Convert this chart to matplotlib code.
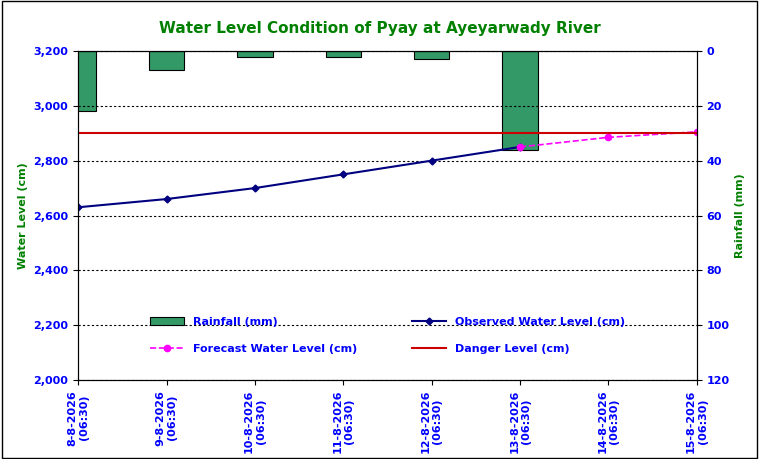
import matplotlib.pyplot as plt
import numpy as np

dates = ['8-8-2026\n(06:30)', '9-8-2026\n(06:30)', '10-8-2026\n(06:30)', '11-8-2026\n(06:30)',
         '12-8-2026\n(06:30)', '13-8-2026\n(06:30)', '14-8-2026\n(06:30)', '15-8-2026\n(06:30)']
rainfall = [22, 7, 2.2, 2.2, 3, 36]
observed = [2630, 2660, 2700, 2750, 2800, 2850]
forecast = [2850, 2885, 2905]
danger = 2900

x = np.arange(len(dates))

fig = plt.figure(figsize=(7.59, 4.59), dpi=100)
ax = fig.add_axes([0.103, 0.172, 0.815, 0.717])
ax.set_xlim(0, len(dates) - 1)
ax.set_ylim(2000, 3200)
ax.set_yticks(range(2000, 3201, 200))
ax.set_yticklabels([f'{v:,}' for v in range(2000, 3201, 200)])
ax.grid(axis='y', color='black', linestyle=(0, (2, 2)), linewidth=0.8)
ax.set_xticks(x)
ax.set_xticklabels(dates, rotation=90, color='blue', fontweight='bold', fontsize=8)
for t in ax.get_yticklabels():
    t.set_color('blue'); t.set_fontweight('bold'); t.set_fontsize(8)
ax.set_ylabel('Water Level (cm)', color='green', fontweight='bold', fontsize=8)

ax2 = ax.twinx()
ax2.set_ylim(120, 0)
ax2.set_yticks(range(0, 121, 20))
for t in ax2.get_yticklabels():
    t.set_color('blue'); t.set_fontweight('bold'); t.set_fontsize(8)
ax2.set_ylabel('Rainfall (mm)', color='green', fontweight='bold', fontsize=8)
b = ax2.bar(x[:len(rainfall)], rainfall, width=0.4, color='#339966', edgecolor='black',
            linewidth=0.8, label='Rainfall (mm)')
ax2.set_xlim(0, len(dates) - 1)

# lines drawn above the bars
ax.set_zorder(ax2.get_zorder() + 1)
ax.patch.set_visible(False)
ax2.patch.set_facecolor('#CCFFFF')

l1, = ax.plot(x[:len(observed)], observed, color='#000080', marker='D', markersize=3.5,
              linewidth=1.5, label='Observed Water Level (cm)')
l2, = ax.plot(x[len(observed) - 1:], forecast, color='#FF00FF', marker='o', markersize=4.5,
              linestyle='--', linewidth=1.2, label='Forecast Water Level (cm)')
l3 = ax.axhline(danger, color='#CC0000', linewidth=1.5, label='Danger Level (cm)')

handles = [b, l2, l1, l3]
leg = ax.legend(handles, [h.get_label() for h in handles], ncol=2,
                loc='lower center', bbox_to_anchor=(0.5, 0.05), frameon=False,
                columnspacing=5, handlelength=3, fontsize=8, labelspacing=1.5)
for t in leg.get_texts():
    t.set_color('blue'); t.set_fontweight('bold')

fig.suptitle('Water Level Condition of Pyay at Ayeyarwady River', color='#008000',
             fontweight='bold', fontsize=11, y=0.955)
fig.patches.append(plt.Rectangle((0.002, 0.002), 0.996, 0.996, transform=fig.transFigure,
                                 fill=False, edgecolor='black', linewidth=1))
fig.savefig('out.png', dpi=100)
